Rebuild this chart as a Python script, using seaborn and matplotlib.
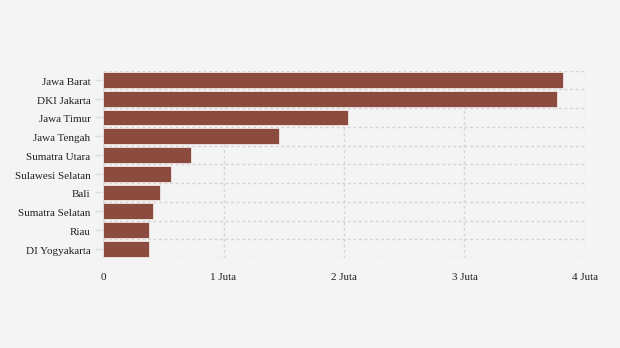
import matplotlib
matplotlib.use("Agg")
import matplotlib.pyplot as plt
import matplotlib.transforms as mtransforms
import seaborn as sns
import pandas as pd
import numpy as np

provinces = ["Jawa Barat", "DKI Jakarta", "Jawa Timur", "Jawa Tengah", "Sumatra Utara",
             "Sulawesi Selatan", "Bali", "Sumatra Selatan", "Riau", "DI Yogyakarta"]
values = [3817000, 3768000, 2033000, 1460000, 730000, 564000, 473000, 415000, 380000, 380000]
xticks = [0, 1_000_000, 2_000_000, 3_000_000, 4_000_000]
xticklabels = ["0", "1 Juta", "2 Juta", "3 Juta", "4 Juta"]

df = pd.DataFrame({"provinsi": provinces, "nilai": values})

sns.set_style("white")
plt.rcParams["font.family"] = ["Liberation Serif", "DejaVu Serif"]

fig = plt.figure(figsize=(6.2, 3.48), dpi=100, facecolor="#f4f4f4")
ax = fig.add_axes([103/620, 1-258/348, (585-103)/620, (258-70.5)/348])
ax.set_facecolor("#f4f4f4")

sns.barplot(data=df, y="provinsi", x="nilai", orient="h", color="#8b4b3e",
            saturation=1, width=0.84, edgecolor="#f0e6e4", linewidth=0.6, ax=ax, zorder=3)

ax.set_xlim(0, 4_000_000)
ax.set_ylim(len(provinces) - 0.5, -0.5)
ax.set_xticks(xticks)
ax.set_xticklabels(xticklabels)
ax.set_yticks(np.arange(len(provinces)))
ax.set_yticklabels(provinces)
ax.set_yticks(np.arange(len(provinces) + 1) - 0.5, minor=True)
ax.set_xlabel("")
ax.set_ylabel("")

for s in ax.spines.values():
    s.set_visible(False)

ax.grid(False)
ax.grid(axis="x", which="major", color="#d4d4d4", linestyle=(0, (2, 2)), linewidth=1.0, zorder=0)
ax.grid(axis="y", which="minor", color="#d4d4d4", linestyle=(0, (2, 2)), linewidth=1.0, zorder=0)

ax.tick_params(axis="y", which="major", length=6, width=1, color="#dcdcdc", pad=3,
               labelsize=8, labelcolor="#222222", left=True)
ax.tick_params(axis="y", which="minor", length=0)
ax.tick_params(axis="x", which="major", length=0, pad=11, labelsize=8, labelcolor="#222222")

offset = mtransforms.ScaledTranslation(0, -1.5 / 100, fig.dpi_scale_trans)
for lbl in ax.get_yticklabels():
    lbl.set_transform(lbl.get_transform() + offset)

fig.savefig("out.png", dpi=100, facecolor="#f4f4f4")
